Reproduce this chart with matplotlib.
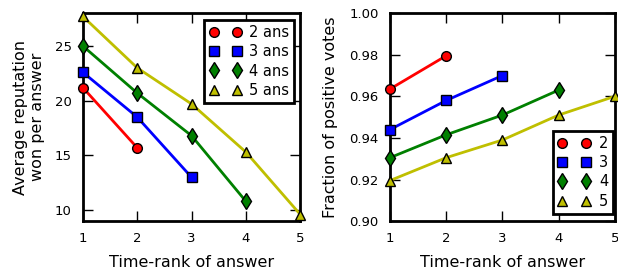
import matplotlib
matplotlib.use("Agg")
import matplotlib.pyplot as plt
from matplotlib.lines import Line2D

ranks = [1, 2, 3, 4, 5]
n_answers = [2, 3, 4, 5]

rep_2 = [21.2, 15.7]
rep_3 = [22.6, 18.5, 13.0]
rep_4 = [25.0, 20.7, 16.8, 10.8]
rep_5 = [27.7, 23.0, 19.7, 15.3, 9.6]

pos_2 = [0.9635, 0.9795]
pos_3 = [0.944, 0.958, 0.970]
pos_4 = [0.9305, 0.9415, 0.951, 0.963]
pos_5 = [0.9195, 0.9305, 0.939, 0.951, 0.960]

rep = [rep_2, rep_3, rep_4, rep_5]
pos = [pos_2, pos_3, pos_4, pos_5]

colors = ["#ff0000", "#0000ff", "#008000", "#bfbf00"]
markers = ["o", "s", "d", "^"]
msizes = [7, 6.5, 8, 7]

plt.rcParams["font.family"] = "DejaVu Sans"

fig = plt.figure(figsize=(6.18, 2.73), dpi=100)
ax1 = fig.add_axes([0.134, 0.19, 0.352, 0.762])
ax2 = fig.add_axes([0.631, 0.19, 0.364, 0.762])


def draw(ax, series, labels, textpad, **legkw):
    handles = []
    for vals, c, m, ms, lab in zip(series, colors, markers, msizes, labels):
        x = ranks[:len(vals)]
        ax.plot(x, vals, color=c, lw=2, zorder=2, clip_on=False)
        ax.plot(x, vals, ls="none", marker=m, ms=ms, mfc=c, mec="black",
                mew=1, zorder=3, clip_on=False)
        handles.append(Line2D([], [], ls="none", marker=m, ms=ms, mfc=c,
                              mec="black", mew=1, label=lab))
    leg = ax.legend(handles=handles, numpoints=2, fontsize=10.5,
                    fancybox=False, framealpha=1, handlelength=2.2,
                    handletextpad=textpad, borderpad=0.35, labelspacing=0.3,
                    markerscale=1.0, **legkw)
    leg.get_frame().set_edgecolor("black")
    leg.get_frame().set_linewidth(2)
    ax.set_xlim(1, 5)
    ax.set_xticks(ranks)
    ax.set_xlabel("Time-rank of answer", fontsize=11.5, labelpad=7)
    for s in ax.spines.values():
        s.set_linewidth(2)
    ax.tick_params(direction="in", top=True, right=True, length=7,
                   width=1, labelsize=9.5)
    ax.tick_params(axis="x", pad=8)
    ax.tick_params(axis="y", pad=8)


draw(ax1, rep, [f"{n} ans" for n in n_answers], 0.5,
     loc="upper right", borderaxespad=0.45)
ax1.set_ylim(9, 28)
ax1.set_yticks([10, 15, 20, 25])
ax1.set_ylabel("Average reputation\nwon per answer", fontsize=11.5,
               labelpad=7)

draw(ax2, pos, [str(n) for n in n_answers], 0.6,
     loc="lower right", bbox_to_anchor=(0.993, 0.035), borderaxespad=0)
ax2.set_ylim(0.90, 1.00)
ax2.set_yticks([0.90, 0.92, 0.94, 0.96, 0.98, 1.00])
ax2.set_yticklabels(["0.90", "0.92", "0.94", "0.96", "0.98", "1.00"])
ax2.set_ylabel("Fraction of positive votes", fontsize=11.5, labelpad=8)

fig.savefig("out.png", dpi=100)
